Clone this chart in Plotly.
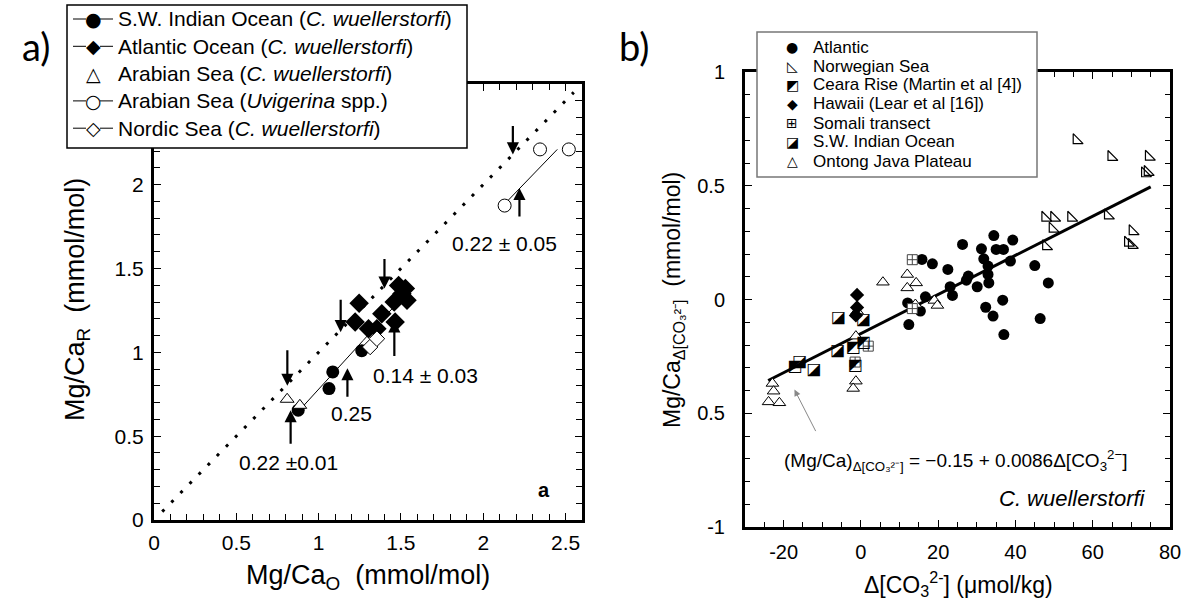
import plotly.graph_objects as go

# ---------------- Panel a data ----------------
sw_indian_x = [0.876, 1.063, 1.086, 1.262]
sw_indian_y = [0.655, 0.784, 0.883, 1.010]
atlantic_x = [1.246, 1.222, 1.303, 1.354, 1.384, 1.459, 1.486, 1.527, 1.537, 1.465, 1.506]
atlantic_y = [1.293, 1.180, 1.141, 1.141, 1.230, 1.300, 1.399, 1.380, 1.310, 1.180, 1.349]
arabian_cw_x = [0.809, 0.886]
arabian_cw_y = [0.720, 0.684]
uvigerina_x = [2.130, 2.345, 2.520]
uvigerina_y = [1.875, 2.210, 2.210]
nordic_x = [1.313, 1.354]
nordic_y = [1.032, 1.081]

sw_line_x = [0.87, 1.27]
sw_line_y = [0.64, 1.07]
atl_line_x = [1.27, 1.53]
atl_line_y = [1.07, 1.35]
uvi_line_x = [2.15, 2.45]
uvi_line_y = [1.905, 2.21]
one_to_one = [0.05, 2.55]

down_arrows_x = [0.81, 1.134, 1.40, 2.18]
down_arrows_y = [0.80, 1.12, 1.38, 2.18]
up_arrows_x = [0.83, 1.175, 1.46, 2.22]
up_arrows_y = [0.655, 0.905, 1.19, 1.98]
slope_labels = ["0.22 ±0.01", "0.25", "0.14 ± 0.03", "0.22 ± 0.05"]
slope_label_x = [0.82, 1.20, 1.65, 2.13]
slope_label_y = [0.345, 0.637, 0.863, 1.65]

legend_a_symbols = ["●", "◆", "△", "○", "◇"]
legend_a_lines = [True, True, False, True, True]
legend_a_labels = ["S.W. Indian Ocean (<i>C. wuellerstorfi</i>)",
                   "Atlantic Ocean (<i>C. wuellerstorfi</i>)",
                   "Arabian Sea (<i>C. wuellerstorfi</i>)",
                   "Arabian Sea (<i>Uvigerina</i> spp.)",
                   "Nordic Sea (<i>C. wuellerstorfi</i>)"]

# ---------------- Panel b data ----------------
atl_b_x = [15.8, 18.5, 22.5, 26.3, 27.8, 27.3, 23.1, 23.7, 16.7, 12.1, 15.4, 12.4, 30.1, 31.2, 34.4,
           35.0, 36.9, 39.3, 31.8, 32.9, 32.9, 33.1, 38.7, 32.3, 34.2, 36.7, 37.0, 45.0, 48.5, 46.4]
atl_b_y = [0.176, 0.157, 0.132, 0.242, 0.103, 0.085, 0.056, 0.018, 0.012, -0.015, -0.051, -0.110, 0.056,
           0.223, 0.281, 0.220, 0.220, 0.261, 0.179, 0.147, 0.110, 0.073, 0.169, -0.034, -0.073, -0.003,
           -0.154, 0.149, 0.073, -0.084]
norw_x = [55.8, 64.8, 74.5, 73.5, 74.2, 47.7, 50.0, 54.4, 49.6, 47.9, 63.9, 70.3, 69.1, 70.1]
norw_y = [0.700, 0.626, 0.627, 0.554, 0.560, 0.359, 0.359, 0.359, 0.311, 0.234, 0.369, 0.300, 0.249, 0.239]
ceara_x = [-2.0, 0.6, -1.5, -17.1]
ceara_y = [-0.212, -0.190, -0.293, -0.296]
swi_b_x = [-5.8, 0.7, -6.0, -15.8, -12.1]
swi_b_y = [-0.081, -0.088, -0.227, -0.275, -0.310]
hawaii_x = [-1.0, -1.0, -1.3]
hawaii_y = [0.020, -0.035, -0.070]
somali_x = [13.3, 13.3, 1.9, -1.5]
somali_y = [0.175, -0.040, -0.205, -0.275]
ontong_x = [-22.9, -22.6, -23.9, -21.1, -1.3, -2.0, -1.3, -1.0, 5.7, 12.0, 12.0, 14.3, 14.1, 19.0, 19.8]
ontong_y = [-0.369, -0.403, -0.450, -0.454, -0.359, -0.391, -0.161, -0.051, 0.076, 0.110, 0.051, 0.073,
            -0.022, -0.004, -0.026]
fit_b_x = [-24, 75]
fit_b_y = [-0.356, 0.495]

xb_tickvals = [-20, 0, 20, 40, 60, 80]
xb_ticktext = ["-20", "0", "20", "40", "60", "80"]
yb_tickvals = [-1, -0.5, 0, 0.5, 1]
yb_ticktext = ["-1", "0.5", "0", "0.5", "1"]

legend_b_symbols = ["●", "◺", "◩", "◆", "⊞", "◪", "△"]
legend_b_labels = ["Atlantic", "Norwegian Sea", "Ceara Rise (Martin et al [4])", "Hawaii (Lear et al [16])",
                   "Somali transect", "S.W. Indian Ocean", "Ontong Java Plateau"]

FONT = "Liberation Sans, Arial, sans-serif"
SYMF = "DejaVu Sans"
W, H = 1188, 599


def px_x(p):
    return p / W


def px_y(p):
    return 1 - p / H


fig = go.Figure()

# ---- panel a lines ----
for lx, ly in [(sw_line_x, sw_line_y), (atl_line_x, atl_line_y), (uvi_line_x, uvi_line_y)]:
    fig.add_trace(go.Scatter(x=lx, y=ly, mode="lines", line=dict(color="black", width=1),
                             hoverinfo="skip", xaxis="x", yaxis="y"))
fig.add_trace(go.Scatter(x=one_to_one, y=one_to_one, mode="lines",
                         line=dict(color="black", width=3, dash="3px,10px"),
                         hoverinfo="skip", xaxis="x", yaxis="y"))

# ---- panel a points ----
series_a = [
    ("S.W. Indian Ocean", sw_indian_x, sw_indian_y, dict(symbol="circle", size=13, color="black")),
    ("Atlantic Ocean", atlantic_x, atlantic_y, dict(symbol="diamond", size=15, color="black")),
    ("Arabian Sea (C. wuellerstorfi)", arabian_cw_x, arabian_cw_y,
     dict(symbol="triangle-up", size=12, color="white", line=dict(width=1, color="black"))),
    ("Arabian Sea (Uvigerina spp.)", uvigerina_x, uvigerina_y,
     dict(symbol="circle", size=13, color="white", line=dict(width=1, color="black"))),
    ("Nordic Sea", nordic_x, nordic_y,
     dict(symbol="diamond", size=12, color="white", line=dict(width=1, color="black"))),
]
for name, xs, ys, mk in series_a:
    fig.add_trace(go.Scatter(x=xs, y=ys, mode="markers", name=name, marker=mk, xaxis="x", yaxis="y"))

# ---- panel b ----
fig.add_trace(go.Scatter(x=fit_b_x, y=fit_b_y, mode="lines", line=dict(color="black", width=3),
                         xaxis="x2", yaxis="y2"))
fig.add_trace(go.Scatter(x=atl_b_x, y=atl_b_y, mode="markers", name="Atlantic",
                         marker=dict(symbol="circle", size=11, color="black"), xaxis="x2", yaxis="y2"))
fig.add_trace(go.Scatter(x=norw_x, y=norw_y, mode="markers", name="Norwegian Sea",
                         marker=dict(symbol="triangle-sw-open", size=11, color="black", line=dict(width=1.2)),
                         xaxis="x2", yaxis="y2"))
fig.add_trace(go.Scatter(x=ontong_x, y=ontong_y, mode="markers", name="Ontong Java Plateau",
                         marker=dict(symbol="triangle-up", size=11, color="white",
                                     line=dict(width=1, color="black")), xaxis="x2", yaxis="y2"))
fig.add_trace(go.Scatter(x=hawaii_x, y=hawaii_y, mode="markers", name="Hawaii",
                         marker=dict(symbol="diamond", size=11, color="black"), xaxis="x2", yaxis="y2"))
fig.add_trace(go.Scatter(x=somali_x, y=somali_y, mode="markers", name="Somali transect",
                         marker=dict(symbol="square-cross", size=10, color="white",
                                     line=dict(width=1, color="#444")), xaxis="x2", yaxis="y2"))
fig.add_trace(go.Scatter(x=ceara_x, y=ceara_y, mode="text", name="Ceara Rise", text=["◩"] * len(ceara_x),
                         textfont=dict(family=SYMF, size=16, color="black"), xaxis="x2", yaxis="y2"))
fig.add_trace(go.Scatter(x=swi_b_x, y=swi_b_y, mode="text", name="S.W. Indian Ocean",
                         text=["◪"] * len(swi_b_x),
                         textfont=dict(family=SYMF, size=16, color="black"), xaxis="x2", yaxis="y2"))


def axis(domain, rng, anchor, size, standoff, minor_dtick, minor_len=6, **kw):
    d = dict(domain=domain, range=rng, anchor=anchor, showline=True, linecolor="black", linewidth=3,
             mirror="allticks", ticks="inside", tickcolor="black", ticklen=7, tickwidth=1.2,
             showgrid=False, zeroline=False, automargin=False,
             tickfont=dict(family=FONT, size=size, color="black"), ticklabelstandoff=standoff,
             minor=dict(dtick=minor_dtick, ticks="inside", ticklen=minor_len, tickcolor="black",
                        tickwidth=1, showgrid=False))
    d.update(kw)
    return d


fig.update_layout(
    width=W, height=H, margin=dict(l=0, r=0, t=0, b=0, autoexpand=False),
    paper_bgcolor="white", plot_bgcolor="white",
    font=dict(family=FONT, color="black"),
    showlegend=False,
    xaxis=axis([px_x(154), px_x(582)], [0, 2.6], "y", 21, 2, 0.1, tick0=0, dtick=0.5),
    yaxis=axis([px_y(520), px_y(84)], [0, 2.6], "x", 21, 3, 0.1, tick0=0, dtick=0.5),
    xaxis2=axis([px_x(745), px_x(1170)], [-30, 80], "y2", 20, 5, 5, 5,
                tickvals=xb_tickvals, ticktext=xb_ticktext),
    yaxis2=axis([px_y(527), px_y(72)], [-1, 1], "x2", 20, 13, 0.1, 5,
                tickvals=yb_tickvals, ticktext=yb_ticktext),
)

ann = []


def ptext(x, y, text, size, family=FONT, xanchor="center", yanchor="middle", **kw):
    ann.append(dict(x=px_x(x), y=px_y(y), xref="paper", yref="paper", text=text, showarrow=False,
                    xanchor=xanchor, yanchor=yanchor, font=dict(family=family, size=size, color="black"),
                    **kw))


# panel labels
ptext(36, 46, "a)", 38, family="Lato, sans-serif")
ptext(634, 46, "b)", 38, family="Lato, sans-serif")
# axis titles
ptext(77, 300, "Mg/Ca<sub>R</sub>  (mmol/mol)", 27, textangle=-90)
ptext(368, 577, "Mg/Ca<sub>O</sub>  (mmol/mol)", 27)
ptext(673, 300, "Mg/Ca<sub>Δ[CO₃²⁻]</sub>  (mmol/mol)", 23, textangle=-90)
ptext(958, 584, "Δ[CO<sub>3</sub><sup>2-</sup>] (μmol/kg)", 23)

# arrows panel a
down_len = [37, 34, 31, 30]
for xa, ya, L in zip(down_arrows_x, down_arrows_y, down_len):
    ann.append(dict(x=xa, y=ya, xref="x", yref="y", ax=0, ay=-L, text="", showarrow=True,
                    arrowhead=2, arrowsize=1.1, arrowwidth=2.2, arrowcolor="black"))
up_len = [35, 30, 37, 30]
for xa, ya, L in zip(up_arrows_x, up_arrows_y, up_len):
    ann.append(dict(x=xa, y=ya, xref="x", yref="y", ax=0, ay=L, text="", showarrow=True,
                    arrowhead=2, arrowsize=1.1, arrowwidth=2.2, arrowcolor="black"))
for t, xa, ya in zip(slope_labels, slope_label_x, slope_label_y):
    ann.append(dict(x=xa, y=ya, xref="x", yref="y", text=t, showarrow=False,
                    font=dict(family=FONT, size=21, color="black")))
ann.append(dict(x=2.37, y=0.18, xref="x", yref="y", text="<b>a</b>", showarrow=False,
                font=dict(family=FONT, size=20, color="black")))

# panel b texts
ann.append(dict(x=-17.2, y=-0.396, xref="x2", yref="y2", ax=22, ay=43, text="", showarrow=True,
                arrowhead=2, arrowsize=1.3, arrowwidth=1, arrowcolor="#888"))
ptext(956, 460, "(Mg/Ca)<sub>Δ[CO₃²⁻]</sub> = −0.15 + 0.0086Δ[CO<sub>3</sub><sup>2−</sup>]", 19)
ptext(1148, 498, "<i>C. wuellerstorfi</i>", 22, xanchor="right")

shapes = []
# legend a (manual)
shapes.append(dict(type="rect", xref="paper", yref="paper", x0=px_x(67), x1=px_x(467),
                   y0=px_y(148), y1=px_y(5), fillcolor="white", line=dict(color="black", width=1.5),
                   layer="above"))
for i, (s, hasline, lab) in enumerate(zip(legend_a_symbols, legend_a_lines, legend_a_labels)):
    yy = 19 + 27.3 * i
    if hasline:
        for x0, x1 in [(73, 86), (100, 113)]:
            shapes.append(dict(type="line", xref="paper", yref="paper", x0=px_x(x0), x1=px_x(x1),
                               y0=px_y(yy), y1=px_y(yy), line=dict(color="black", width=1), layer="above"))
    ptext(93, yy, s, 19, family=SYMF)
    ptext(116, yy, lab, 21, xanchor="left")

# legend b (manual)
shapes.append(dict(type="rect", xref="paper", yref="paper", x0=px_x(757), x1=px_x(1037),
                   y0=px_y(177), y1=px_y(32), fillcolor="white", line=dict(color="#777", width=1.5),
                   layer="above"))
for i, (s, lab) in enumerate(zip(legend_b_symbols, legend_b_labels)):
    yy = 47 + 19 * i
    ptext(792, yy, s, 14, family=SYMF)
    ptext(811, yy, lab, 17, xanchor="left")

fig.update_layout(annotations=ann, shapes=shapes)
fig.write_html("out.html", config={"displayModeBar": False},
               post_script="document.body.style.margin='0px';")
